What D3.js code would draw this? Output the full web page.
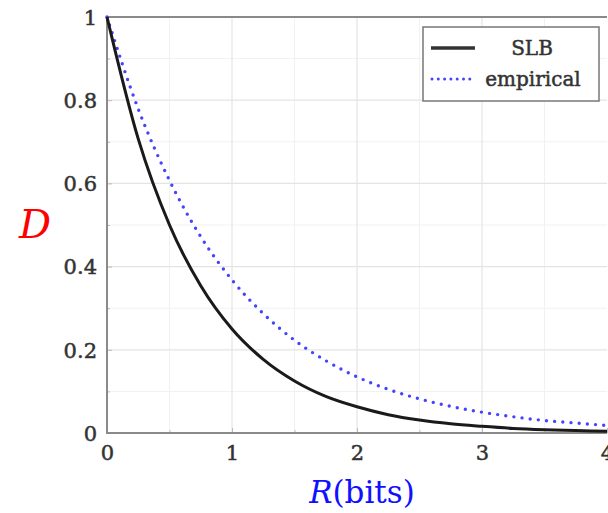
<!DOCTYPE html>
<html>
<head>
<meta charset="utf-8">
<script src="https://cdn.jsdelivr.net/npm/d3@7"></script>
<style>
  body { margin: 0; background: #fff; }
</style>
</head>
<body>
<div id="chart"></div>
<script>
// data
const rates = [0, 0.25, 0.5, 0.75, 1, 1.25, 1.5, 1.75, 2, 2.25, 2.5, 2.75, 3, 3.25, 3.5, 3.75, 4];
const slb = [1, 0.707, 0.5, 0.354, 0.25, 0.177, 0.125, 0.088, 0.063, 0.044, 0.031, 0.022, 0.016, 0.011, 0.008, 0.006, 0.004];
const empirical = [1, 0.779, 0.607, 0.472, 0.368, 0.287, 0.223, 0.174, 0.135, 0.105, 0.082, 0.064, 0.05, 0.039, 0.03, 0.024, 0.018];
const xTicks = [0, 1, 2, 3, 4];
const yTicks = [0, 0.2, 0.4, 0.6, 0.8, 1];
const legendLabels = ['SLB', 'empirical'];

const serif = '"DejaVu Serif", serif';

const draw = () => {
    const dimensions = {
        width: 608,
        height: 513,
        margin: { top: 17, bottom: 80, left: 107, right: 1 }
    };
    dimensions.containerWidth = dimensions.width - dimensions.margin.left - dimensions.margin.right;
    dimensions.containerHeight = dimensions.height - dimensions.margin.top - dimensions.margin.bottom;

    const svg = d3.select('#chart')
        .append('svg')
        .attr('width', dimensions.width)
        .attr('height', dimensions.height);

    const container = svg.append('g')
        .attr('transform', `translate(${dimensions.margin.left}, ${dimensions.margin.top})`);

    // scales
    const xScale = d3.scaleLinear()
        .domain([0, 4])
        .range([0, 500]);

    const yScale = d3.scaleLinear()
        .domain([0, 1])
        .range([dimensions.containerHeight, 0]);

    const w = xScale(4), h = dimensions.containerHeight;

    // grid (minor then major)
    const minorX = d3.range(0.5, 4, 1);
    const minorY = d3.range(0.1, 1, 0.2);
    container.append('g').selectAll('line')
        .data(minorX).join('line')
        .attr('x1', xScale).attr('x2', xScale)
        .attr('y1', 0).attr('y2', h)
        .attr('stroke', '#f1f1f1').attr('stroke-width', 1);
    container.append('g').selectAll('line')
        .data(minorY).join('line')
        .attr('y1', yScale).attr('y2', yScale)
        .attr('x1', 0).attr('x2', w)
        .attr('stroke', '#f1f1f1').attr('stroke-width', 1);
    container.append('g').selectAll('line')
        .data(xTicks.slice(1, -1)).join('line')
        .attr('x1', xScale).attr('x2', xScale)
        .attr('y1', 0).attr('y2', h)
        .attr('stroke', '#e4e4e4').attr('stroke-width', 1.2);
    container.append('g').selectAll('line')
        .data(yTicks.slice(1, -1)).join('line')
        .attr('y1', yScale).attr('y2', yScale)
        .attr('x1', 0).attr('x2', w)
        .attr('stroke', '#e4e4e4').attr('stroke-width', 1.2);

    // axes (ticks drawn inward)
    const xAxis = d3.axisBottom(xScale)
        .tickValues(xTicks)
        .tickSize(-5)
        .tickPadding(9)
        .tickFormat(d3.format('d'));
    const xAxisGroup = container.append('g')
        .call(xAxis)
        .attr('transform', `translate(0, ${h})`);

    const xMinor = container.append('g')
        .call(d3.axisBottom(xScale).tickValues(minorX).tickSize(-3).tickFormat(''))
        .attr('transform', `translate(0, ${h})`);

    const yAxis = d3.axisLeft(yScale)
        .tickValues(yTicks)
        .tickSize(-5)
        .tickPadding(10)
        .tickFormat(d => d === 0 || d === 1 ? d : d3.format('.1f')(d));
    const yAxisGroup = container.append('g').call(yAxis);

    const yMinor = container.append('g')
        .call(d3.axisLeft(yScale).tickValues(minorY).tickSize(-3).tickFormat(''));

    [xAxisGroup, yAxisGroup, xMinor, yMinor].forEach(g => {
        g.attr('font-family', serif);
        g.select('.domain').remove();
        g.selectAll('.tick line').attr('stroke', '#bbb');
        g.selectAll('.tick text')
            .attr('fill', '#333')
            .attr('stroke', '#333')
            .attr('stroke-width', 0.5)
            .style('font-size', '21px')
            .style('font-family', serif);
    });
    xAxisGroup.selectAll('.tick text').attr('dy', '0.85em');
    yAxisGroup.selectAll('.tick text').attr('dy', '0.35em');

    // frame
    container.append('path')
        .attr('d', `M${w},0H0V${h}H${w}`)
        .attr('fill', 'none')
        .attr('stroke', '#8a8a8a')
        .attr('stroke-width', 2);

    // curves
    const line = values => d3.line()
        .x((d, i) => xScale(rates[i]))
        .y(d => yScale(d))
        .curve(d3.curveMonotoneX)(values);

    container.append('path')
        .attr('d', line(empirical))
        .attr('fill', 'none')
        .attr('stroke', '#4444ff')
        .attr('stroke-width', 3.4)
        .attr('stroke-linecap', 'round')
        .attr('stroke-dasharray', '0 8.2');

    container.append('path')
        .attr('d', line(slb))
        .attr('fill', 'none')
        .attr('stroke', '#1a1a1a')
        .attr('stroke-width', 3);

    // legend
    const legend = svg.append('g').attr('transform', 'translate(423, 27)');
    legend.append('rect')
        .attr('width', 176).attr('height', 74)
        .attr('fill', '#fff')
        .attr('stroke', '#777')
        .attr('stroke-width', 1.5);
    legend.append('line')
        .attr('x1', 8).attr('x2', 52).attr('y1', 21).attr('y2', 21)
        .attr('stroke', '#333').attr('stroke-width', 3.5);
    legend.append('line')
        .attr('x1', 9).attr('x2', 53).attr('y1', 52).attr('y2', 52)
        .attr('stroke', '#4444ff').attr('stroke-width', 3)
        .attr('stroke-linecap', 'round')
        .attr('stroke-dasharray', '0 6.3');
    legend.selectAll('text.lab')
        .data(legendLabels).join('text')
        .attr('class', 'lab')
        .attr('x', (d, i) => i === 0 ? 109 : 110)
        .attr('y', (d, i) => i === 0 ? 28 : 59)
        .attr('text-anchor', 'middle')
        .attr('fill', '#333')
        .attr('stroke', '#333')
        .attr('stroke-width', 0.5)
        .style('font-family', serif)
        .style('font-size', '20px')
        .text(d => d);

    // axis titles
    svg.append('text')
        .attr('x', 35).attr('y', 238)
        .attr('text-anchor', 'middle')
        .attr('fill', '#ff0000')
        .style('font-family', serif)
        .style('font-size', '40px')
        .style('font-style', 'italic')
        .text('D');

    const xTitle = svg.append('text')
        .attr('x', 362).attr('y', 503)
        .attr('text-anchor', 'middle')
        .attr('fill', '#1010ff')
        .style('font-family', serif)
        .style('font-size', '31px');
    xTitle.append('tspan').style('font-style', 'italic').text('R');
    xTitle.append('tspan').text('(bits)');
};

draw();
</script>
</body>
</html>
